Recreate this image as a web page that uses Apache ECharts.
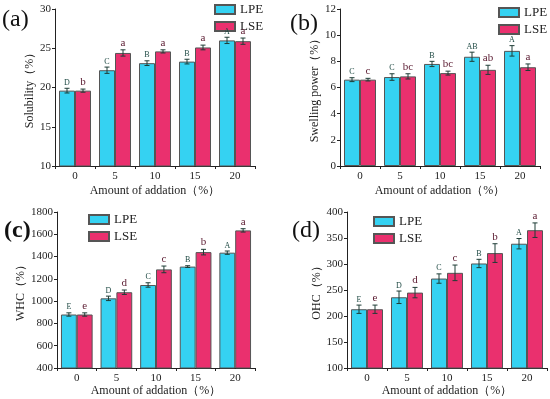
<!DOCTYPE html>
<html><head><meta charset="utf-8">
<script src="https://cdn.jsdelivr.net/npm/echarts@6/dist/echarts.min.js"></script>
<style>html,body{margin:0;padding:0;background:#fff}#c{width:550px;height:399px}</style>
</head><body><div id="c"></div>
<script>
const categories = ['0','5','10','15','20'];
// (a) Solubility
const solLPE = [19.6, 22.2, 23.1, 23.3, 26.0];
const solLSE = [19.6, 24.4, 24.6, 25.1, 25.9];
const solLPEErr = [0.3, 0.4, 0.3, 0.3, 0.4];
const solLSEErr = [0.2, 0.4, 0.2, 0.3, 0.4];
const solLPELetters = ['D','C','B','B','A'];
const solLSELetters = ['b','a','a','a','a'];
// (b) Swelling power
const swLPE = [6.6, 6.8, 7.8, 8.35, 8.8];
const swLSE = [6.6, 6.85, 7.1, 7.35, 7.55];
const swLPEErr = [0.15, 0.25, 0.2, 0.35, 0.4];
const swLSEErr = [0.1, 0.2, 0.15, 0.35, 0.25];
const swLPELetters = ['C','C','B','AB','A'];
const swLSELetters = ['c','bc','bc','ab','a'];
// (c) WHC
const whcLPE = [880, 1025, 1145, 1310, 1435];
const whcLSE = [880, 1080, 1285, 1440, 1635];
const whcLPEErr = [15, 20, 20, 8, 15];
const whcLSEErr = [15, 20, 30, 25, 15];
const whcLPELetters = ['E','D','C','B','A'];
const whcLSELetters = ['e','d','c','b','a'];
// (d) OHC
const ohcLPE = [213, 236, 272, 301, 339];
const ohcLSE = [213, 245, 283, 321, 365];
const ohcLPEErr = [8, 12, 9, 8, 10];
const ohcLSEErr = [8, 10, 15, 18, 14];
const ohcLPELetters = ['E','D','C','B','A'];
const ohcLSELetters = ['e','d','c','b','a'];

const colLPE = '#35d2f2';
const colLSE = '#ea306e';
const FONT = 'Liberation Serif';

const panels = [
  {grid:{left:55, top:9, width:200, height:157}, y:{min:10,max:30,interval:5}, yName:'Solubility（%）', yGap:17, xGap:19,
   lpe:solLPE, lse:solLSE, lpeE:solLPEErr, lseE:solLSEErr, lpeL:solLPELetters, lseL:solLSELetters,
   legend:{left:214, top:3}, label:'(a)', lx:2, ly:8, bold:false},
  {grid:{left:340, top:9, width:200, height:157}, y:{min:0,max:12,interval:2}, yName:'Swelling power（%）', yGap:13, xGap:19,
   lpe:swLPE, lse:swLSE, lpeE:swLPEErr, lseE:swLSEErr, lpeL:swLPELetters, lseL:swLSELetters,
   legend:{left:498, top:6}, label:'(b)', lx:290, ly:12, bold:false},
  {grid:{left:57, top:212, width:198, height:156}, y:{min:400,max:1800,interval:200}, yName:'WHC（%）', yGap:25, xGap:17,
   lpe:whcLPE, lse:whcLSE, lpeE:whcLPEErr, lseE:whcLSEErr, lpeL:whcLPELetters, lseL:whcLSELetters,
   legend:{left:88, top:213}, label:'(c)', lx:4, ly:219, bold:true},
  {grid:{left:347, top:212, width:200, height:156}, y:{min:100,max:400,interval:50}, yName:'OHC（%）', yGap:17, xGap:17,
   lpe:ohcLPE, lse:ohcLSE, lpeE:ohcLPEErr, lseE:ohcLSEErr, lpeL:ohcLPELetters, lseL:ohcLSELetters,
   legend:{left:373, top:215}, label:'(d)', lx:292, ly:219, bold:false}
];

const grid = [], xAxis = [], yAxis = [], series = [], legend = [], graphic = [];
const axisLine = {show:true, lineStyle:{color:'#222', width:1}};

function errSeries(idx, vals, errs, letters, off, color) {
  return {
    type:'custom', xAxisIndex:idx, yAxisIndex:idx, z:5, silent:true,
    data: vals.map((v,i)=>[i, v, errs[i]]),
    renderItem: function(params, api){
      const i = api.value(0), v = api.value(1), e = api.value(2);
      const band = api.size([1,0])[0];
      const c = api.coord([i, v]);
      const x = c[0] + off*band;
      const yt = api.coord([i, v+e])[1];
      const yb = api.coord([i, v-e])[1];
      const cap = 2.5;
      const st = {stroke:'#1e3d36', lineWidth:1};
      const lower = letters[params.dataIndex] === letters[params.dataIndex].toLowerCase();
      return {type:'group', children:[
        {type:'line', shape:{x1:x,y1:yt,x2:x,y2:yb}, style:st},
        {type:'line', shape:{x1:x-cap,y1:yt,x2:x+cap,y2:yt}, style:st},
        {type:'line', shape:{x1:x-cap,y1:yb,x2:x+cap,y2:yb}, style:st},
        {type:'text', x:x, y:yt-1.5, style:{text:letters[params.dataIndex], fill:color, align:'center', verticalAlign:'bottom',
          font:(lower? '11px ':'8px ') + FONT}}
      ]};
    }
  };
}

panels.forEach((p, idx) => {
  grid.push(p.grid);
  xAxis.push({type:'category', gridIndex:idx, data:categories,
    name:'Amount of addation（%）', nameLocation:'middle', nameGap:p.xGap,
    nameTextStyle:{fontFamily:FONT, fontSize:12, color:'#222'},
    axisLine:axisLine, axisTick:{show:true, length:3, lineStyle:{color:'#222'}},
    axisLabel:{fontFamily:FONT, fontSize:11, color:'#222', margin:5}});
  yAxis.push({type:'value', gridIndex:idx, min:p.y.min, max:p.y.max, interval:p.y.interval,
    name:p.yName, nameLocation:'middle', nameGap:p.yGap,
    nameTextStyle:{fontFamily:FONT, fontSize:12, color:'#222'},
    axisLine:axisLine, axisTick:{show:true, length:3, lineStyle:{color:'#222'}},
    splitLine:{show:false},
    axisLabel:{fontFamily:FONT, fontSize:11, color:'#222', margin:4, formatter:(v)=>String(v)}});
  series.push({name:'LPE', type:'bar', xAxisIndex:idx, yAxisIndex:idx, data:p.lpe, barWidth:'40%', barGap:'0%',
    itemStyle:{color:colLPE, borderColor:'#555', borderWidth:1}});
  series.push({name:'LSE', type:'bar', xAxisIndex:idx, yAxisIndex:idx, data:p.lse, barWidth:'40%', barGap:'0%',
    itemStyle:{color:colLSE, borderColor:'#555', borderWidth:1}});
  series.push(errSeries(idx, p.lpe, p.lpeE, p.lpeL, -0.2, '#1f4a44'));
  series.push(errSeries(idx, p.lse, p.lseE, p.lseL, 0.2, '#5a1a30'));
  legend.push({left:p.legend.left, top:p.legend.top, orient:'vertical', itemWidth:20, itemHeight:9, itemGap:4,
    padding:0, icon:'rect', data:['LPE','LSE'], selectedMode:false,
    textStyle:{fontFamily:FONT, fontSize:13, color:'#222', padding:[0,0,0,0]}});
  graphic.push({type:'text', left:p.lx, top:p.ly, style:{text:p.label, font:(p.bold?'bold ':'')+'24px '+FONT, fill:'#111'}});
});

const chart = echarts.init(document.getElementById('c'), null, {renderer:'canvas'});
chart.setOption({animation:false, backgroundColor:'#fff', grid, xAxis, yAxis, series, legend, graphic});
</script></body></html>
